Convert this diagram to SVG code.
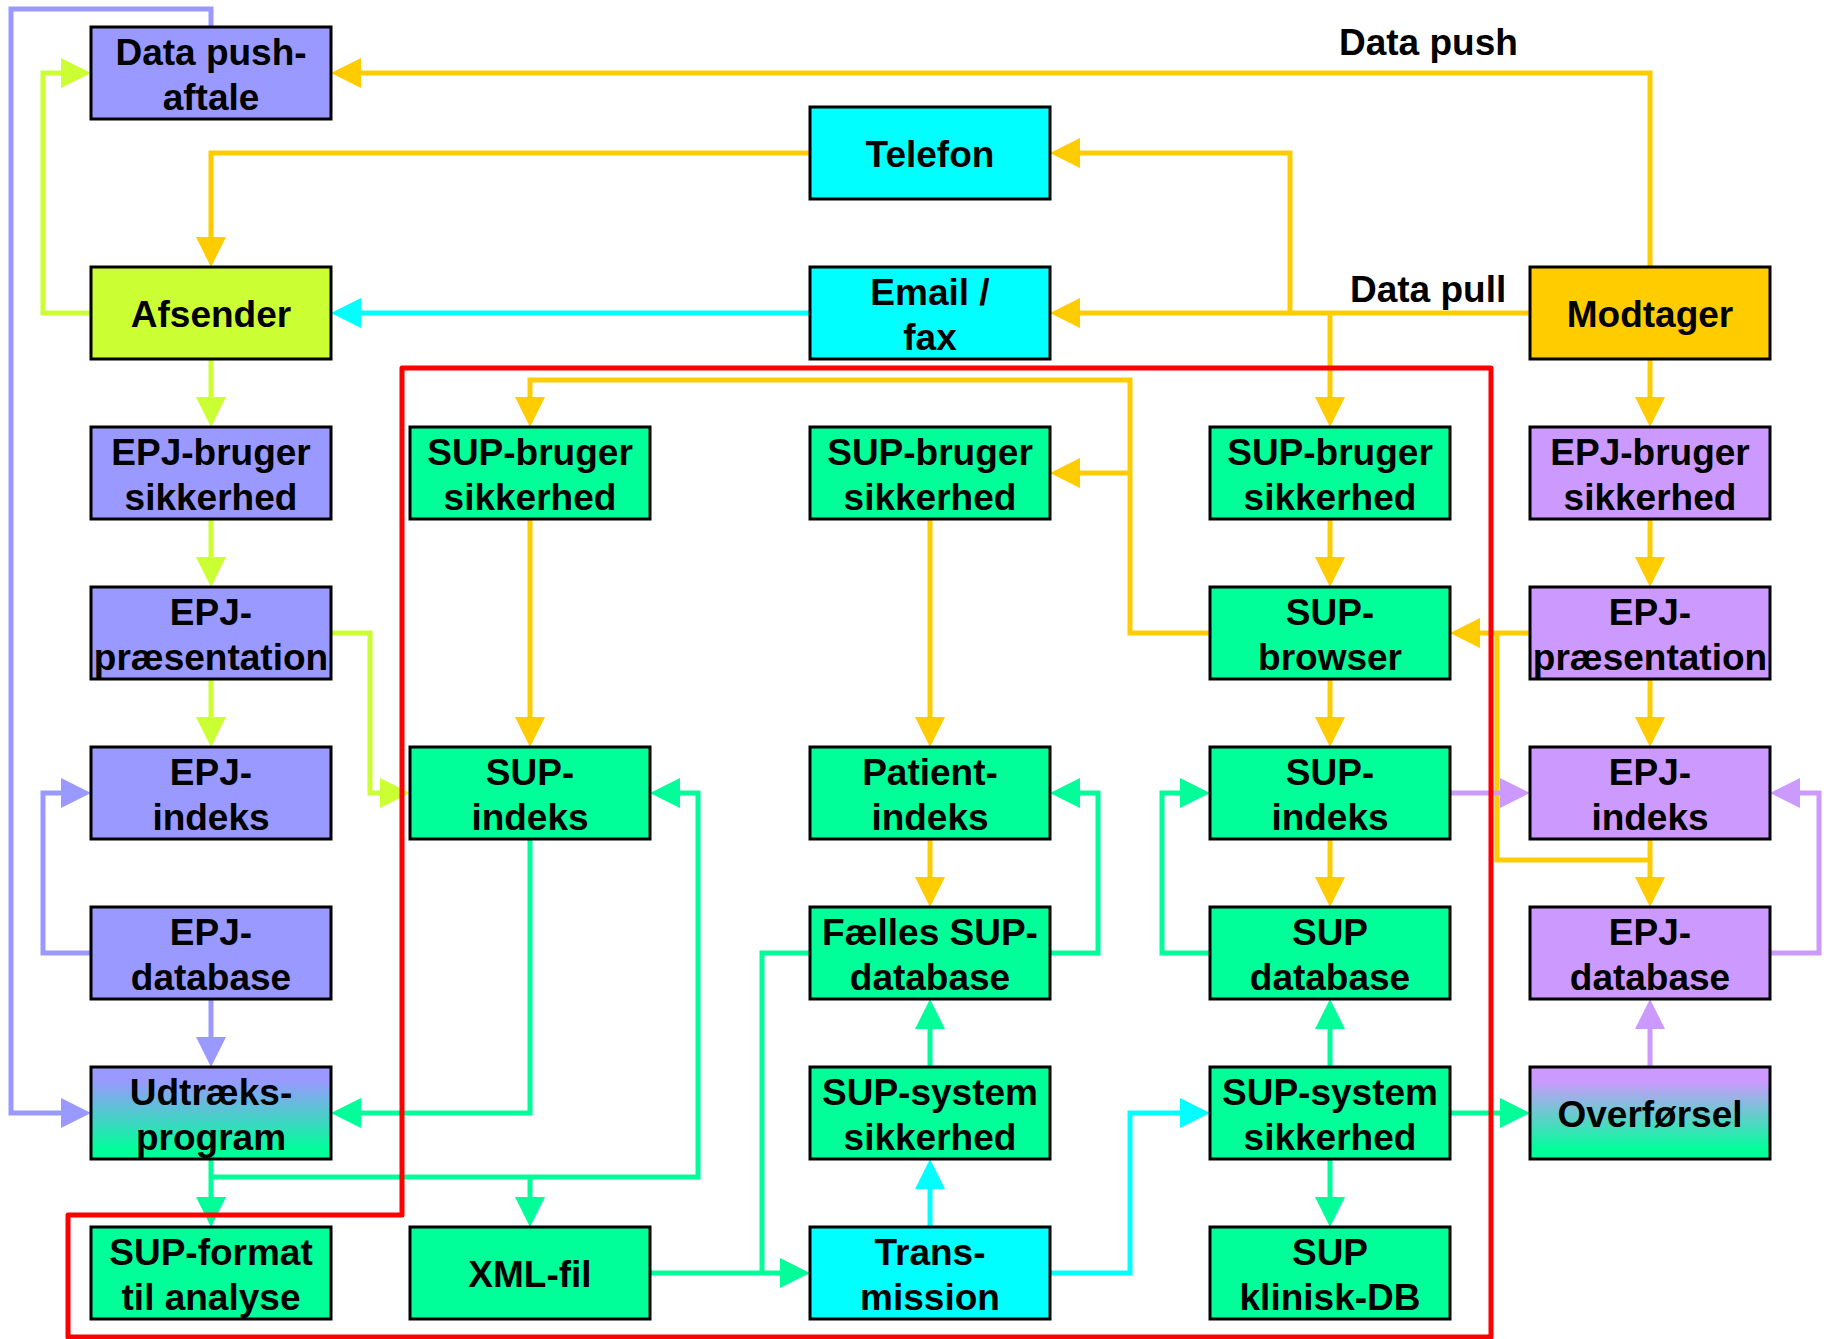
<svg xmlns="http://www.w3.org/2000/svg" width="1836" height="1339" viewBox="0 0 1836 1339">
<style>
.bx{stroke:#000;stroke-width:3}
.t{font-family:"Liberation Sans",Arial,sans-serif;font-weight:bold;font-size:37px;fill:#000;text-anchor:middle}
.lb{font-family:"Liberation Sans",Arial,sans-serif;font-weight:bold;font-size:37px;fill:#000}
.c{fill:none;stroke-width:5;stroke-linejoin:miter}
.y{stroke:#FFCC00}.l{stroke:#CCFF33}.b{stroke:#9999FF}.g{stroke:#00FF99}.cy{stroke:#00FFFF}.p{stroke:#CC99FF}
.blue{fill:#9999FF}.green{fill:#00FF99}.cyan{fill:#00FFFF}.lime{fill:#CCFF33}.gold{fill:#FFCC00}.purple{fill:#CC99FF}
</style>
<defs>
<linearGradient id="gB" x1="0" y1="0" x2="0" y2="1"><stop offset="0.15" stop-color="#9999FF"/><stop offset="0.9" stop-color="#00FF99"/></linearGradient>
<linearGradient id="gP" x1="0" y1="0" x2="0" y2="1"><stop offset="0.15" stop-color="#CC99FF"/><stop offset="0.9" stop-color="#00FF99"/></linearGradient>
<marker id="ay" markerUnits="userSpaceOnUse" markerWidth="30" markerHeight="30" refX="0" refY="15" orient="auto" viewBox="0 0 30 30"><path d="M0,0 L30,15 L0,30 z" fill="#FFCC00"/></marker>
<marker id="al" markerUnits="userSpaceOnUse" markerWidth="30" markerHeight="30" refX="0" refY="15" orient="auto" viewBox="0 0 30 30"><path d="M0,0 L30,15 L0,30 z" fill="#CCFF33"/></marker>
<marker id="ab" markerUnits="userSpaceOnUse" markerWidth="30" markerHeight="30" refX="0" refY="15" orient="auto" viewBox="0 0 30 30"><path d="M0,0 L30,15 L0,30 z" fill="#9999FF"/></marker>
<marker id="ag" markerUnits="userSpaceOnUse" markerWidth="30" markerHeight="30" refX="0" refY="15" orient="auto" viewBox="0 0 30 30"><path d="M0,0 L30,15 L0,30 z" fill="#00FF99"/></marker>
<marker id="ac" markerUnits="userSpaceOnUse" markerWidth="30" markerHeight="30" refX="0" refY="15" orient="auto" viewBox="0 0 30 30"><path d="M0,0 L30,15 L0,30 z" fill="#00FFFF"/></marker>
<marker id="ap" markerUnits="userSpaceOnUse" markerWidth="30" markerHeight="30" refX="0" refY="15" orient="auto" viewBox="0 0 30 30"><path d="M0,0 L30,15 L0,30 z" fill="#CC99FF"/></marker>
</defs>
<rect width="1836" height="1339" fill="#fff"/>
<g id="connectors">
<path class="c y" d="M1650,267 V73 H361" marker-end="url(#ay)"/>
<path class="c y" d="M810,153 H211 V237" marker-end="url(#ay)"/>
<path class="c y" d="M1530,313 H1080" marker-end="url(#ay)"/>
<path class="c y" d="M1290,313 V153 H1080" marker-end="url(#ay)"/>
<path class="c y" d="M1330,313 V397" marker-end="url(#ay)"/>
<path class="c y" d="M1210,633 H1130 V380 H530 V397" marker-end="url(#ay)"/>
<path class="c y" d="M1130,473 H1080" marker-end="url(#ay)"/>
<path class="c y" d="M530,519 V717" marker-end="url(#ay)"/>
<path class="c y" d="M930,519 V717" marker-end="url(#ay)"/>
<path class="c y" d="M930,839 V877" marker-end="url(#ay)"/>
<path class="c y" d="M1330,519 V557" marker-end="url(#ay)"/>
<path class="c y" d="M1330,679 V717" marker-end="url(#ay)"/>
<path class="c y" d="M1330,839 V877" marker-end="url(#ay)"/>
<path class="c y" d="M1650,359 V397" marker-end="url(#ay)"/>
<path class="c y" d="M1650,519 V557" marker-end="url(#ay)"/>
<path class="c y" d="M1650,679 V717" marker-end="url(#ay)"/>
<path class="c y" d="M1650,839 V877" marker-end="url(#ay)"/>
<path class="c y" d="M1530,633 H1480" marker-end="url(#ay)"/>
<path class="c y" d="M1497,633 V860 H1650"/>
<path class="c l" d="M91,313 H43 V73 H61" marker-end="url(#al)"/>
<path class="c l" d="M211,359 V397" marker-end="url(#al)"/>
<path class="c l" d="M211,519 V557" marker-end="url(#al)"/>
<path class="c l" d="M211,679 V717" marker-end="url(#al)"/>
<path class="c l" d="M331,633 H370 V793 H380" marker-end="url(#al)"/>
<path class="c b" d="M211,27 V9 H11 V1113 H61" marker-end="url(#ab)"/>
<path class="c b" d="M91,953 H43 V793 H61" marker-end="url(#ab)"/>
<path class="c b" d="M211,999 V1037" marker-end="url(#ab)"/>
<path class="c g" d="M530,839 V1113 H361" marker-end="url(#ag)"/>
<path class="c g" d="M211,1159 V1197" marker-end="url(#ag)"/>
<path class="c g" d="M211,1177 H698 V793 H680" marker-end="url(#ag)"/>
<path class="c g" d="M530,1177 V1197" marker-end="url(#ag)"/>
<path class="c g" d="M650,1273 H780" marker-end="url(#ag)"/>
<path class="c g" d="M810,953 H762 V1273"/>
<path class="c g" d="M1050,953 H1098 V793 H1080" marker-end="url(#ag)"/>
<path class="c g" d="M930,1067 V1029" marker-end="url(#ag)"/>
<path class="c g" d="M1210,953 H1162 V793 H1180" marker-end="url(#ag)"/>
<path class="c g" d="M1330,1067 V1029" marker-end="url(#ag)"/>
<path class="c g" d="M1330,1159 V1197" marker-end="url(#ag)"/>
<path class="c g" d="M1450,1113 H1500" marker-end="url(#ag)"/>
<path class="c cy" d="M810,313 H361" marker-end="url(#ac)"/>
<path class="c cy" d="M930,1227 V1189" marker-end="url(#ac)"/>
<path class="c cy" d="M1050,1273 H1130 V1113 H1180" marker-end="url(#ac)"/>
<path class="c p" d="M1450,793 H1500" marker-end="url(#ap)"/>
<path class="c p" d="M1770,953 H1819 V793 H1800" marker-end="url(#ap)"/>
<path class="c p" d="M1650,1067 V1029" marker-end="url(#ap)"/>
</g>
<path id="boundary" d="M402,368 H1491 V1337 H68 V1215 H402 Z" fill="none" stroke="#FF0000" stroke-width="5" stroke-linejoin="round"/>
<g id="labels">
<text class="lb" x="1339" y="55">Data push</text>
<text class="lb" x="1350" y="302">Data pull</text>
</g>
<g id="n-datapush"><rect class="bx blue" x="91" y="27" width="240" height="92"/><text class="t" x="211" y="65">Data push-</text><text class="t" x="211" y="110">aftale</text></g>
<g id="n-telefon"><rect class="bx cyan" x="810" y="107" width="240" height="92"/><text class="t" x="930" y="167">Telefon</text></g>
<g id="n-afsender"><rect class="bx lime" x="91" y="267" width="240" height="92"/><text class="t" x="211" y="327">Afsender</text></g>
<g id="n-email"><rect class="bx cyan" x="810" y="267" width="240" height="92"/><text class="t" x="930" y="305">Email /</text><text class="t" x="930" y="350">fax</text></g>
<g id="n-modtager"><rect class="bx gold" x="1530" y="267" width="240" height="92"/><text class="t" x="1650" y="327">Modtager</text></g>
<g id="n-epjbruger1"><rect class="bx blue" x="91" y="427" width="240" height="92"/><text class="t" x="211" y="465">EPJ-bruger</text><text class="t" x="211" y="510">sikkerhed</text></g>
<g id="n-supbruger2"><rect class="bx green" x="410" y="427" width="240" height="92"/><text class="t" x="530" y="465">SUP-bruger</text><text class="t" x="530" y="510">sikkerhed</text></g>
<g id="n-supbruger3"><rect class="bx green" x="810" y="427" width="240" height="92"/><text class="t" x="930" y="465">SUP-bruger</text><text class="t" x="930" y="510">sikkerhed</text></g>
<g id="n-supbruger4"><rect class="bx green" x="1210" y="427" width="240" height="92"/><text class="t" x="1330" y="465">SUP-bruger</text><text class="t" x="1330" y="510">sikkerhed</text></g>
<g id="n-epjbruger5"><rect class="bx purple" x="1530" y="427" width="240" height="92"/><text class="t" x="1650" y="465">EPJ-bruger</text><text class="t" x="1650" y="510">sikkerhed</text></g>
<g id="n-epjpraes1"><rect class="bx blue" x="91" y="587" width="240" height="92"/><text class="t" x="211" y="625">EPJ-</text><text class="t" x="211" y="670">præsentation</text></g>
<g id="n-supbrowser"><rect class="bx green" x="1210" y="587" width="240" height="92"/><text class="t" x="1330" y="625">SUP-</text><text class="t" x="1330" y="670">browser</text></g>
<g id="n-epjpraes5"><rect class="bx purple" x="1530" y="587" width="240" height="92"/><text class="t" x="1650" y="625">EPJ-</text><text class="t" x="1650" y="670">præsentation</text></g>
<g id="n-epjindeks1"><rect class="bx blue" x="91" y="747" width="240" height="92"/><text class="t" x="211" y="785">EPJ-</text><text class="t" x="211" y="830">indeks</text></g>
<g id="n-supindeks2"><rect class="bx green" x="410" y="747" width="240" height="92"/><text class="t" x="530" y="785">SUP-</text><text class="t" x="530" y="830">indeks</text></g>
<g id="n-patientindeks"><rect class="bx green" x="810" y="747" width="240" height="92"/><text class="t" x="930" y="785">Patient-</text><text class="t" x="930" y="830">indeks</text></g>
<g id="n-supindeks4"><rect class="bx green" x="1210" y="747" width="240" height="92"/><text class="t" x="1330" y="785">SUP-</text><text class="t" x="1330" y="830">indeks</text></g>
<g id="n-epjindeks5"><rect class="bx purple" x="1530" y="747" width="240" height="92"/><text class="t" x="1650" y="785">EPJ-</text><text class="t" x="1650" y="830">indeks</text></g>
<g id="n-epjdb1"><rect class="bx blue" x="91" y="907" width="240" height="92"/><text class="t" x="211" y="945">EPJ-</text><text class="t" x="211" y="990">database</text></g>
<g id="n-faelles"><rect class="bx green" x="810" y="907" width="240" height="92"/><text class="t" x="930" y="945">Fælles SUP-</text><text class="t" x="930" y="990">database</text></g>
<g id="n-supdb"><rect class="bx green" x="1210" y="907" width="240" height="92"/><text class="t" x="1330" y="945">SUP</text><text class="t" x="1330" y="990">database</text></g>
<g id="n-epjdb5"><rect class="bx purple" x="1530" y="907" width="240" height="92"/><text class="t" x="1650" y="945">EPJ-</text><text class="t" x="1650" y="990">database</text></g>
<g id="n-udtraek"><rect class="bx" fill="url(#gB)" x="91" y="1067" width="240" height="92"/><text class="t" x="211" y="1105">Udtræks-</text><text class="t" x="211" y="1150">program</text></g>
<g id="n-supsys3"><rect class="bx green" x="810" y="1067" width="240" height="92"/><text class="t" x="930" y="1105">SUP-system</text><text class="t" x="930" y="1150">sikkerhed</text></g>
<g id="n-supsys4"><rect class="bx green" x="1210" y="1067" width="240" height="92"/><text class="t" x="1330" y="1105">SUP-system</text><text class="t" x="1330" y="1150">sikkerhed</text></g>
<g id="n-overfoersel"><rect class="bx" fill="url(#gP)" x="1530" y="1067" width="240" height="92"/><text class="t" x="1650" y="1127">Overførsel</text></g>
<g id="n-supformat"><rect class="bx green" x="91" y="1227" width="240" height="92"/><text class="t" x="211" y="1265">SUP-format</text><text class="t" x="211" y="1310">til analyse</text></g>
<g id="n-xml"><rect class="bx green" x="410" y="1227" width="240" height="92"/><text class="t" x="530" y="1287">XML-fil</text></g>
<g id="n-transmission"><rect class="bx cyan" x="810" y="1227" width="240" height="92"/><text class="t" x="930" y="1265">Trans-</text><text class="t" x="930" y="1310">mission</text></g>
<g id="n-klinisk"><rect class="bx green" x="1210" y="1227" width="240" height="92"/><text class="t" x="1330" y="1265">SUP</text><text class="t" x="1330" y="1310">klinisk-DB</text></g>
</svg>
